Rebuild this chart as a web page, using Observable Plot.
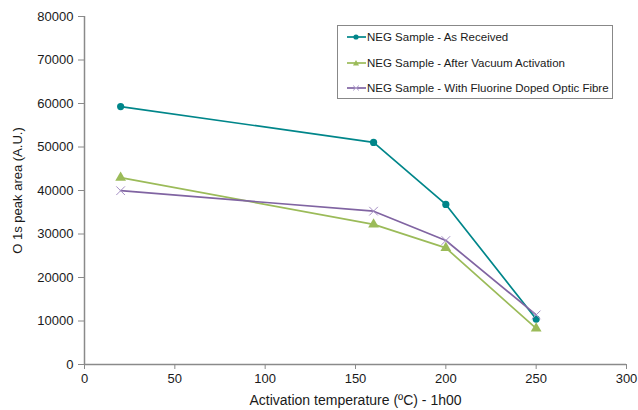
<!DOCTYPE html>
<html>
<head>
<meta charset="utf-8">
<script src="https://cdn.jsdelivr.net/npm/d3@7"></script>
<script src="https://cdn.jsdelivr.net/npm/@observablehq/plot@0.6"></script>
<style>
  html, body { margin: 0; padding: 0; background: #fff; }
  #wrap { position: relative; width: 638px; height: 410px; font-family: "Liberation Sans", Arial, sans-serif; }
  #legend { position: absolute; left: 337px; top: 25px; width: 276px; height: 74px; border: 1px solid #888; background: #fff; box-sizing: border-box; font-size: 11.5px; color: #1a1a1a; }
  .item { position: absolute; left: 9px; height: 14px; display: flex; align-items: center; }
  .item svg { margin-right: 1px; }
</style>
</head>
<body>
<div id="wrap"><div id="chart"></div><div id="legend"></div></div>
<script>
const temperatures = [20, 160, 200, 250];
const seriesNames = [
  "NEG Sample - As Received",
  "NEG Sample - After Vacuum Activation",
  "NEG Sample - With Fluorine Doped Optic Fibre"
];
const asReceived = [59300, 51050, 36800, 10450];
const afterVacuum = [42950, 32200, 26800, 8300];
const fluorine = [39950, 35250, 28500, 11400];
const xTicks = [0, 50, 100, 150, 200, 250, 300];
const yTicks = [0, 10000, 20000, 30000, 40000, 50000, 60000, 70000, 80000];
const colors = ["#00868a", "#9bbb59", "#8064a2"];
const symbols = ["circle", "triangle", "times"];

const allSeries = [asReceived, afterVacuum, fluorine];
const data = [];
allSeries.forEach((vals, s) => vals.forEach((v, i) => data.push({series: seriesNames[s], x: temperatures[i], y: v})));

const axisGray = "#8a8a8a";
const chart = Plot.plot({
  width: 638,
  height: 410,
  marginLeft: 84,
  marginRight: 12,
  marginTop: 16,
  marginBottom: 46,
  style: {fontFamily: "Liberation Sans, Arial, sans-serif", fontSize: "13px", color: "#1a1a1a", background: "#fff"},
  x: {domain: [0, 300]},
  y: {domain: [0, 80000]},
  color: {domain: seriesNames, range: colors},
  symbol: {domain: seriesNames, range: symbols},
  marks: [
    Plot.ruleX([0], {stroke: axisGray, strokeWidth: 1.5}),
    Plot.ruleY([0], {stroke: axisGray, strokeWidth: 1.5}),
    Plot.axisX({ticks: xTicks, tickSize: 5, tickPadding: 4, stroke: axisGray, fontSize: 13, label: null}),
    Plot.axisX({ticks: [], fontSize: 14,
      label: "Activation temperature (ºC) - 1h00", labelAnchor: "center", labelArrow: "none", labelOffset: 40}),
    Plot.axisY({ticks: yTicks, tickSize: 6, tickPadding: 5, stroke: axisGray, tickFormat: d => String(d), fontSize: 13,
      label: "O 1s peak area (A.U.)", labelAnchor: "center", labelArrow: "none", labelOffset: 72}),
    Plot.line(data, {x: "x", y: "y", z: "series", stroke: "series", strokeWidth: 1.7}),
    Plot.dot(data.filter(d => d.series === seriesNames[0]), {x: "x", y: "y", fill: "series", symbol: "series", r: 3.6}),
    Plot.dot(data.filter(d => d.series === seriesNames[1]), {x: "x", y: "y", fill: "series", symbol: "series", r: 4}),
    Plot.dot(data.filter(d => d.series === seriesNames[2]), {x: "x", y: "y", stroke: "#a58fc4", symbol: "series", r: 4, strokeWidth: 1})
  ]
});
document.getElementById("chart").appendChild(chart);

// legend
const legend = document.getElementById("legend");
const tops = [4, 30, 55];
seriesNames.forEach((name, i) => {
  const item = document.createElement("div");
  item.className = "item";
  item.style.top = tops[i] + "px";
  let marker = "";
  if (i === 0) marker = `<circle cx="9" cy="7" r="2.6" fill="${colors[0]}"/>`;
  if (i === 1) marker = `<path d="M9,4 L12,9.5 L6,9.5 Z" fill="${colors[1]}"/>`;
  if (i === 2) marker = `<path d="M6,4.5 L12,9.5 M12,4.5 L6,9.5" stroke="#b3a2cf" stroke-width="1"/>`;
  item.innerHTML = `<svg width="19" height="14"><line x1="0" y1="7" x2="19" y2="7" stroke="${colors[i]}" stroke-width="1.7"/>${marker}</svg><span>${name}</span>`;
  legend.appendChild(item);
});
</script>
</body>
</html>
